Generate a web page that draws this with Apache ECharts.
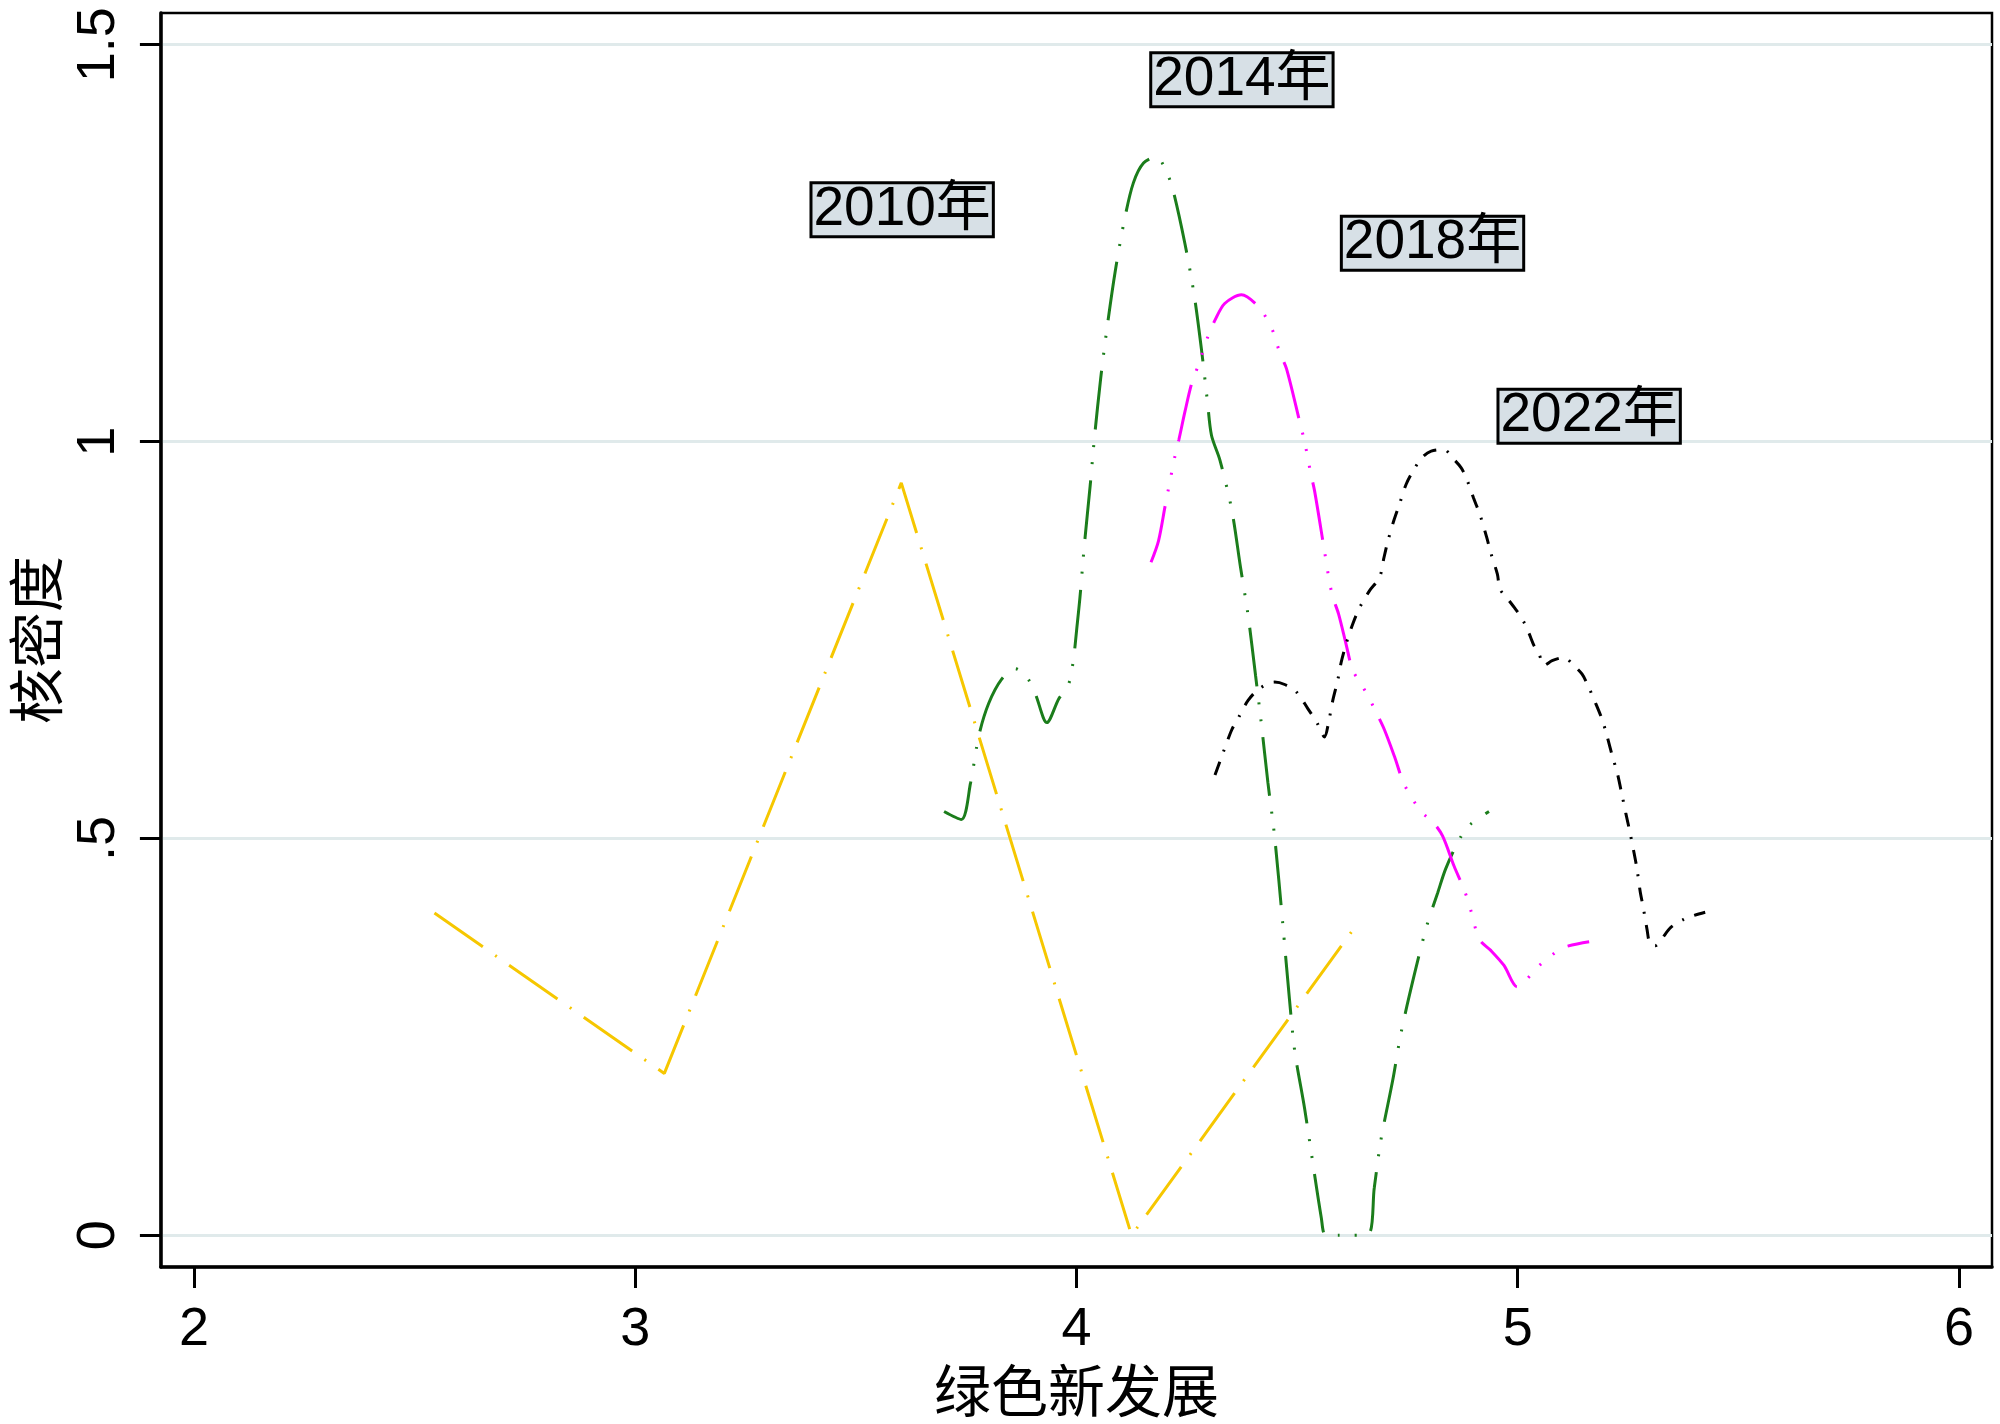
<!DOCTYPE html>
<html>
<head>
<meta charset="utf-8">
<title>核密度</title>
<script src="https://cdn.jsdelivr.net/npm/echarts@6.0.0/dist/echarts.min.js"></script>
<style>
  html, body { margin: 0; padding: 0; background: #fff; }
  #chart { width: 2000px; height: 1424px; }
</style>
</head>
<body>
<div id="chart"></div>
<script>
// 刻度
const xTicks = [2, 3, 4, 5, 6]
const yTicks = [0, 0.5, 1, 1.5]
const yTickLabels = ['0', '.5', '1', '1.5']

// 2010年
const x2010 = [2.545, 3.066, 3.603, 4.125, 4.636]
const y2010 = [0.406, 0.204, 0.948, 0.000, 0.392]

// 2014年
const x2014 = [3.700, 3.739, 3.760, 3.779, 3.801, 3.831, 3.861, 3.890, 3.907, 3.933,
  3.960, 3.982, 3.993, 4.001, 4.008, 4.018, 4.031, 4.041, 4.055, 4.069,
  4.088, 4.109, 4.129, 4.152, 4.182, 4.202, 4.217, 4.246, 4.267, 4.284,
  4.297, 4.306, 4.325, 4.352, 4.372, 4.389, 4.406, 4.419, 4.434, 4.449,
  4.468, 4.483, 4.495, 4.517, 4.555, 4.565, 4.596, 4.660, 4.675, 4.690,
  4.717, 4.736, 4.766, 4.794, 4.819, 4.837, 4.868, 4.891, 4.935]
const y2014 = [0.534, 0.524, 0.570, 0.630, 0.670, 0.701, 0.714, 0.701, 0.682, 0.646,
  0.676, 0.694, 0.725, 0.766, 0.804, 0.870, 0.944, 1.006, 1.080, 1.142,
  1.215, 1.280, 1.326, 1.351, 1.359, 1.342, 1.321, 1.249, 1.184, 1.113,
  1.050, 1.008, 0.977, 0.914, 0.841, 0.781, 0.705, 0.645, 0.570, 0.503,
  0.390, 0.296, 0.231, 0.160, 0.022, 0.000, 0.000, 0.001, 0.060, 0.120,
  0.196, 0.256, 0.329, 0.390, 0.432, 0.462, 0.499, 0.517, 0.534]

// 2018年
const x2018 = [4.169, 4.186, 4.201, 4.208, 4.223, 4.232, 4.246, 4.261, 4.276, 4.299,
  4.314, 4.336, 4.374, 4.411, 4.433, 4.449, 4.460, 4.476, 4.506, 4.517,
  4.531, 4.540, 4.561, 4.573, 4.581, 4.594, 4.611, 4.626, 4.645, 4.664,
  4.681, 4.698, 4.721, 4.743, 4.781, 4.809, 4.830, 4.856, 4.879, 4.892,
  4.913, 4.939, 4.969, 4.999, 5.018, 5.045, 5.075, 5.105, 5.162]
const y2018 = [0.848, 0.875, 0.919, 0.939, 0.981, 1.002, 1.038, 1.073, 1.096, 1.134,
  1.153, 1.174, 1.185, 1.171, 1.153, 1.134, 1.113, 1.092, 1.025, 1.000,
  0.960, 0.937, 0.866, 0.825, 0.804, 0.783, 0.745, 0.712, 0.695, 0.676,
  0.657, 0.637, 0.603, 0.568, 0.534, 0.520, 0.503, 0.465, 0.435, 0.413,
  0.373, 0.359, 0.340, 0.313, 0.321, 0.338, 0.352, 0.363, 0.370]

// 2022年
const x2022 = [4.314, 4.333, 4.352, 4.368, 4.389, 4.415, 4.449, 4.472, 4.498, 4.524,
  4.546, 4.562, 4.573, 4.581, 4.592, 4.600, 4.611, 4.626, 4.641, 4.664,
  4.687, 4.697, 4.706, 4.719, 4.732, 4.747, 4.766, 4.785, 4.804, 4.833,
  4.853, 4.872, 4.885, 4.900, 4.915, 4.930, 4.939, 4.954, 4.960, 4.977,
  4.995, 5.011, 5.026, 5.037, 5.048, 5.060, 5.078, 5.105, 5.127, 5.146,
  5.159, 5.177, 5.192, 5.203, 5.215, 5.226, 5.236, 5.245, 5.254, 5.263,
  5.270, 5.278, 5.284, 5.293, 5.300, 5.312, 5.327, 5.347, 5.376, 5.399, 5.425]
const y2022 = [0.580, 0.609, 0.637, 0.653, 0.674, 0.689, 0.697, 0.694, 0.685, 0.664,
  0.645, 0.628, 0.651, 0.674, 0.699, 0.722, 0.745, 0.770, 0.790, 0.812,
  0.829, 0.854, 0.875, 0.900, 0.921, 0.946, 0.966, 0.981, 0.988, 0.990,
  0.979, 0.967, 0.952, 0.929, 0.907, 0.879, 0.860, 0.833, 0.814, 0.802,
  0.789, 0.776, 0.758, 0.743, 0.733, 0.718, 0.724, 0.728, 0.718, 0.707,
  0.693, 0.670, 0.649, 0.628, 0.603, 0.582, 0.556, 0.532, 0.509, 0.484,
  0.463, 0.432, 0.415, 0.386, 0.367, 0.365, 0.374, 0.388, 0.398, 0.403, 0.407]

// 年份标注
const labelText = ['2010年', '2014年', '2018年', '2022年']
const labelX = [3.605, 4.375, 4.807, 5.162]
const labelY = [1.292, 1.456, 1.250, 1.032]

const latin = '"Liberation Sans", Arial, Helvetica, sans-serif'
const cjk = '"Liberation Sans", "Noto Sans CJK SC", sans-serif'

function pairs(xs, ys) {
  return xs.map((x, i) => [x, ys[i]])
}

function curve(name, xs, ys, color, dash, smooth) {
  return {
    name: name,
    type: 'line',
    data: pairs(xs, ys),
    showSymbol: false,
    symbol: 'none',
    smooth: smooth,
    z: 3,
    lineStyle: { color: color, width: 3, type: dash, cap: 'butt' }
  }
}

const chart = echarts.init(document.getElementById('chart'), null, { renderer: 'canvas' })

const option = {
  animation: false,
  backgroundColor: '#ffffff',
  grid: {
    left: 157,
    right: 8,
    top: 13,
    bottom: 151,
    show: true,
    backgroundColor: '#ffffff',
    borderColor: '#000000',
    borderWidth: 2.5
  },
  xAxis: {
    type: 'value',
    min: 1.925,
    max: 6.075,
    name: '绿色新发展',
    nameLocation: 'middle',
    nameGap: 82,
    nameTextStyle: { fontFamily: '"Noto Sans CJK SC", sans-serif', fontSize: 57, color: '#000' },
    axisLine: { onZero: false, lineStyle: { color: '#000', width: 3.5 } },
    axisTick: { show: true, length: 21, customValues: xTicks, lineStyle: { color: '#000', width: 3 } },
    axisLabel: {
      customValues: xTicks,
      margin: 36,
      fontFamily: latin,
      fontSize: 54,
      color: '#000'
    },
    splitLine: { show: false }
  },
  yAxis: {
    type: 'value',
    min: -0.04,
    max: 1.54,
    name: '核密度',
    nameLocation: 'middle',
    nameGap: 92,
    nameTextStyle: { fontFamily: '"Noto Sans CJK SC", sans-serif', fontSize: 56, color: '#000' },
    axisLine: { onZero: false, lineStyle: { color: '#000', width: 3.5 } },
    axisTick: { show: true, length: 21, customValues: yTicks, lineStyle: { color: '#000', width: 3 } },
    axisLabel: {
      customValues: yTicks,
      rotate: 90,
      margin: 35,
      fontFamily: latin,
      fontSize: 54,
      color: '#000',
      formatter: v => yTickLabels[yTicks.indexOf(v)] ?? String(v)
    },
    splitLine: { show: true, lineStyle: { color: '#e0eaeb', width: 3 } }
  },
  series: [
    curve('2010年', x2010, y2010, '#f6c700', [59, 15, 2, 15], false),
    curve('2014年', x2014, y2014, '#1b7d1b', [59, 16, 2, 15, 2, 16], 0.3),
    curve('2018年', x2018, y2018, '#ff00ff', [58, 15, 2, 15, 2, 15, 2, 15], 0.3),
    curve('2022年', x2022, y2022, '#000000', [14, 11, 2, 11], 0.3),
    {
      name: '标注',
      type: 'scatter',
      symbolSize: 0,
      z: 5,
      itemStyle: { opacity: 1 },
      data: labelText.map((t, i) => ({ value: [labelX[i], labelY[i]], name: t })),
      label: {
        show: true,
        position: 'inside',
        formatter: p => p.name,
        fontFamily: cjk,
        fontSize: 55,
        lineHeight: 50,
        color: '#000000',
        opacity: 1,
        textBorderWidth: 0,
        textShadowBlur: 0,
        backgroundColor: '#d7e0e6',
        borderColor: '#000000',
        borderWidth: 3,
        padding: [1, 1, 0, 1]
      },
      emphasis: { disabled: true }
    }
  ]
}

chart.setOption(option)
</script>
</body>
</html>
